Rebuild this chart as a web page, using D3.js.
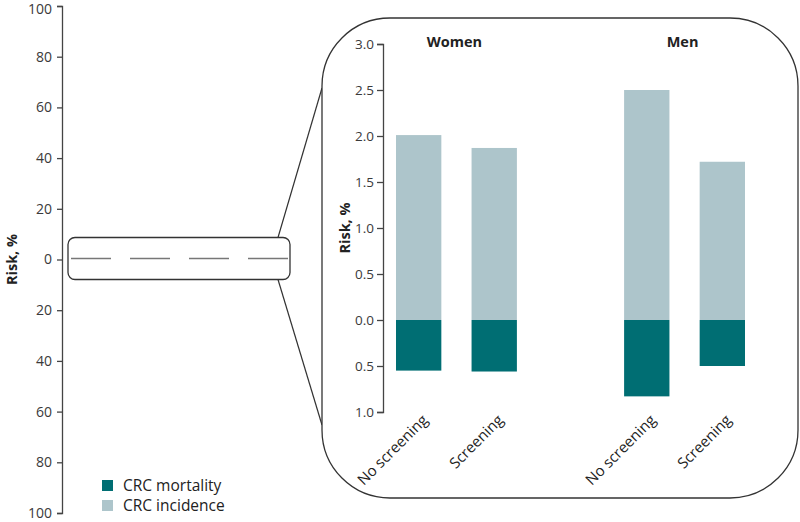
<!DOCTYPE html>
<html><head><meta charset="utf-8">
<script src="https://cdn.jsdelivr.net/npm/d3@7"></script>
<style>body{margin:0;background:#fff;} text{font-family:"Open Sans",sans-serif;}</style>
</head><body><svg id="c" width="800" height="522"></svg>
<script>
// ---- data ----
const groups = ["Women", "Men"];
const categories = ["No screening", "Screening"];
const incidence = [2.01, 1.87, 2.50, 1.72];   // upward bars, %
const mortality = [0.55, 0.56, 0.83, 0.50];   // downward bars, %
const outerTicks = [100, 80, 60, 40, 20, 0, -20, -40, -60, -80, -100];
const innerTicks = [3.0, 2.5, 2.0, 1.5, 1.0, 0.5, 0.0, -0.5, -1.0];
const seriesNames = ["CRC mortality", "CRC incidence"];
const colors = {mortality: "#006e73", incidence: "#adc5cb"};

const svg = d3.select("#c");
const axisColor = "#444", tickText = "#3a3a3a";

// ---- outer axis ----
const yOuter = d3.scaleLinear().domain([-100, 100]).range([513, 6]);
const gOuter = svg.append("g").attr("transform", "translate(62,0)")
  .call(d3.axisLeft(yOuter).tickValues(outerTicks).tickSize(5).tickPadding(5)
    .tickFormat(d => Math.abs(d)));
gOuter.select(".domain").attr("stroke", axisColor).attr("stroke-width", 1.3);
gOuter.selectAll(".tick line").attr("stroke", axisColor).attr("stroke-width", 1.3);
gOuter.selectAll(".tick text").attr("fill", tickText).style("font-size", "14px").style("font-family", "Open Sans");
gOuter.selectAll(".tick text").filter(d => d === 100).attr("dy", "0.52em");
svg.append("text").attr("transform", `translate(17,${yOuter(0)}) rotate(-90)`)
  .attr("text-anchor", "middle").style("font-size", "14.5px").style("font-weight", "bold").attr("fill", "#222")
  .text("Risk, %");

// ---- connecting lines ----
const y0 = yOuter(0);
svg.append("line").attr("x1", 278).attr("y1", y0 - 22).attr("x2", 322).attr("y2", 88).attr("stroke", "#333").attr("stroke-width", 1.2);
svg.append("line").attr("x1", 278).attr("y1", y0 + 20).attr("x2", 322).attr("y2", 425).attr("stroke", "#333").attr("stroke-width", 1.2);

// small zoom box
svg.append("rect").attr("x", 68).attr("y", y0 - 22).attr("width", 222).attr("height", 42).attr("rx", 7)
  .attr("fill", "#fff").attr("stroke", "#333").attr("stroke-width", 1.3);
svg.append("line").attr("x1", 71).attr("x2", 288).attr("y1", y0 - 1).attr("y2", y0 - 1)
  .attr("stroke", "#777").attr("stroke-width", 1.5).attr("stroke-dasharray", "40,19");

// big box
svg.append("rect").attr("x", 322).attr("y", 18).attr("width", 476).attr("height", 480).attr("rx", 68)
  .attr("fill", "#fff").attr("stroke", "#333").attr("stroke-width", 1.3);

// ---- inner chart ----
const yIn = d3.scaleLinear().domain([-1, 3]).range([412, 44]);
const gIn = svg.append("g").attr("transform", "translate(383,0)")
  .call(d3.axisLeft(yIn).tickValues(innerTicks).tickSize(6).tickPadding(3)
    .tickFormat(d => d3.format(".1f")(Math.abs(d))));
gIn.select(".domain").attr("stroke", axisColor).attr("stroke-width", 1.3);
gIn.selectAll(".tick line").attr("stroke", axisColor).attr("stroke-width", 1.3);
gIn.selectAll(".tick text").attr("fill", tickText).style("font-size", "13.5px").style("font-family", "Open Sans");
svg.append("text").attr("transform", `translate(350,${yIn(1)}) rotate(-90)`)
  .attr("text-anchor", "middle").style("font-size", "14.5px").style("font-weight", "bold").attr("fill", "#222")
  .text("Risk, %");

const xGroup = d3.scaleBand().domain(groups).range([396, 745]).paddingInner(0.47);
const xCat = d3.scaleBand().domain(categories).range([0, xGroup.bandwidth()]).paddingInner(0.4);

const bars = [];
groups.forEach((g, gi) => categories.forEach((c, ci) => {
  const i = gi * categories.length + ci;
  bars.push({g, c, inc: incidence[i], mort: mortality[i], x: xGroup(g) + xCat(c)});
}));

svg.append("g").selectAll("rect.inc").data(bars).join("rect")
  .attr("x", d => d.x).attr("width", xCat.bandwidth())
  .attr("y", d => yIn(d.inc)).attr("height", d => yIn(0) - yIn(d.inc))
  .attr("fill", colors.incidence);
svg.append("g").selectAll("rect.mort").data(bars).join("rect")
  .attr("x", d => d.x).attr("width", xCat.bandwidth())
  .attr("y", yIn(0)).attr("height", d => yIn(-d.mort) - yIn(0))
  .attr("fill", colors.mortality);

// category labels
svg.append("g").selectAll("text").data(bars).join("text")
  .attr("transform", d => `translate(${d.x + xCat.bandwidth() / 2 + 10},${421}) rotate(-45)`)
  .attr("text-anchor", "end").style("font-size", "15px").style("font-weight", "500").attr("fill", "#222")
  .text(d => d.c);

// group labels
svg.append("g").selectAll("text").data(groups).join("text")
  .attr("x", g => xGroup(g) + xGroup.bandwidth() / 2 - 2).attr("y", 47)
  .attr("text-anchor", "middle").style("font-size", "14.5px").style("font-weight", "bold").attr("fill", "#222")
  .text(g => g);

// ---- legend ----
const legColors = [colors.mortality, colors.incidence];
const leg = svg.append("g").selectAll("g").data(seriesNames).join("g")
  .attr("transform", (d, i) => `translate(102,${480 + i * 20})`);
leg.append("rect").attr("width", 11).attr("height", 11).attr("fill", (d, i) => legColors[i]);
leg.append("text").attr("x", 21).attr("y", 11).style("font-size", "15.5px").style("font-weight", "500").attr("fill", "#222").text(d => d);
</script></body></html>
